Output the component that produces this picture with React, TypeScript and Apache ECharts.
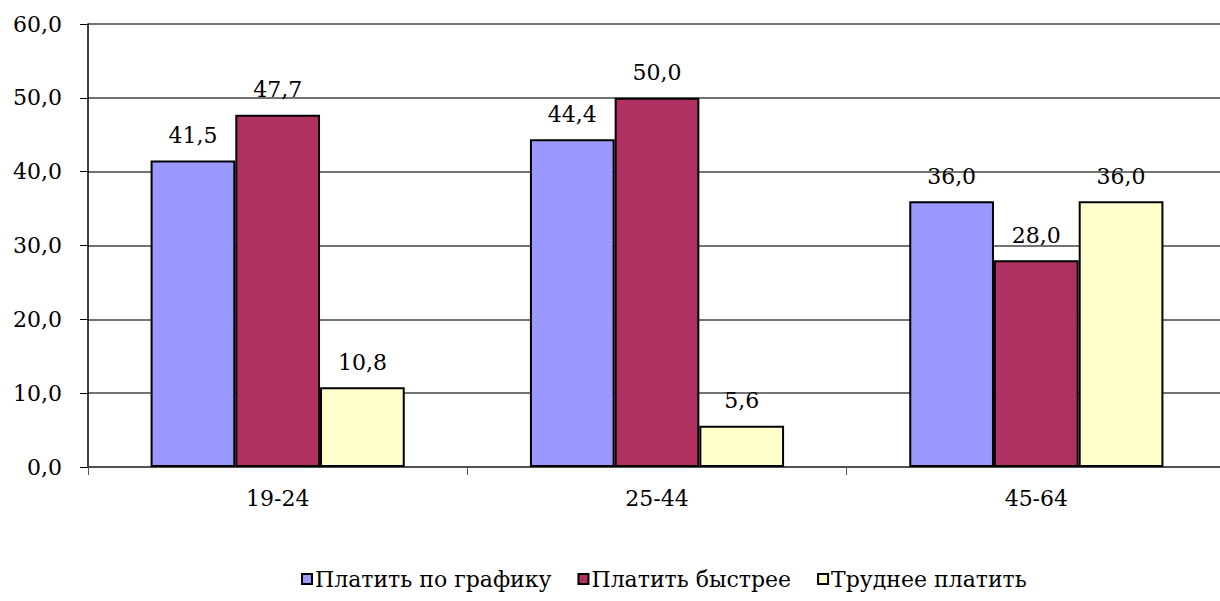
import React, { useEffect, useRef } from "react";
import * as echarts from "echarts";

const categories = ["19-24", "25-44", "45-64"];
const seriesNames = ["Платить по графику", "Платить быстрее", "Труднее платить"];
const payOnSchedule = [41.5, 44.4, 36.0];
const payFaster = [47.7, 50.0, 28.0];
const harderToPay = [10.8, 5.6, 36.0];
const colors = ["#9999FF", "#B03062", "#FFFFCC"];

const fmt = (v: number) => v.toFixed(1).replace(".", ",");
const FONT = "'DejaVu Serif'";
const FS = 22;

export default function App() {
  const ref = useRef<HTMLDivElement>(null);
  useEffect(() => {
    if (!ref.current) return;
    const chart = echarts.init(ref.current, null, { renderer: "svg", width: 1220, height: 601 });
    const data = [payOnSchedule, payFaster, harderToPay];
    const txt = { fontFamily: FONT, fontSize: FS, color: "#000" };
    chart.setOption({
      animation: false,
      backgroundColor: "#ffffff",
      textStyle: txt,
      grid: { left: 88, top: 24, width: 1138, height: 443, containLabel: false, outerBoundsMode: "none" },
      legend: {
        bottom: 6,
        left: 296,
        icon: "rect",
        itemWidth: 10,
        itemHeight: 10,
        itemGap: 26,
        textStyle: { ...txt, padding: [0, 0, 0, -2] },
        data: seriesNames.map((n, i) => ({
          name: n,
          itemStyle: { color: colors[i], borderColor: "#000", borderWidth: 2 },
        })),
      },
      xAxis: {
        type: "category",
        data: categories,
        axisLine: { lineStyle: { color: "#444", width: 1.5 } },
        axisTick: { show: true, length: 8, lineStyle: { color: "#555" } },
        axisLabel: { ...txt, margin: 20 },
      },
      yAxis: {
        type: "value",
        min: 0,
        max: 60,
        interval: 10,
        axisLine: { show: true, lineStyle: { color: "#000", width: 1.5 } },
        axisTick: { show: true, length: 8, lineStyle: { color: "#000" } },
        splitLine: { lineStyle: { color: "#444", width: 1.5 } },
        axisLabel: { ...txt, margin: 26, formatter: (v: number) => fmt(v) },
      },
      series: seriesNames.map((n, i) => ({
        name: n,
        type: "bar",
        data: data[i],
        barGap: "0%",
        barCategoryGap: "33%",
        itemStyle: { color: colors[i], borderColor: "#000", borderWidth: 2 },
        label: {
          show: true,
          position: "top",
          distance: 14,
          ...txt,
          formatter: (p: any) => fmt(p.value),
        },
      })),
    });
    return () => chart.dispose();
  }, []);
  return (
    <div
      ref={ref}
      style={{ position: "fixed", left: 0, top: 0, width: 1220, height: 601, background: "#fff" }}
    />
  );
}
